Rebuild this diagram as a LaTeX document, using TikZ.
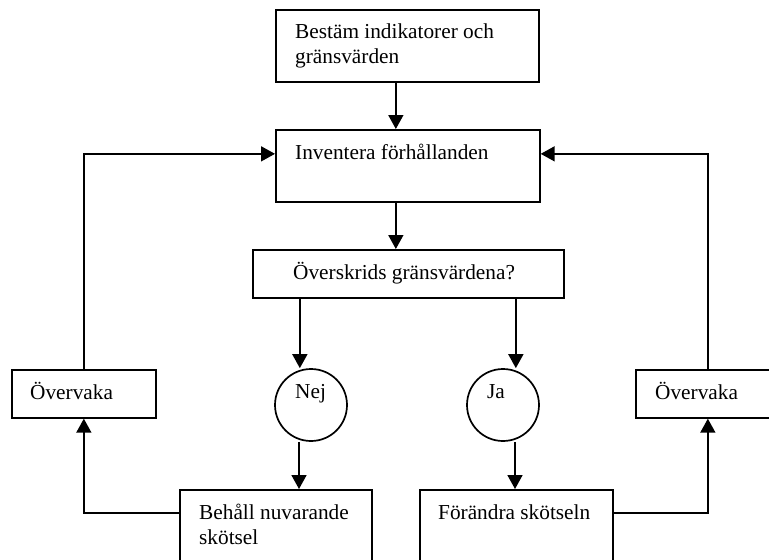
\documentclass[tikz,border=0pt]{standalone}
\usepackage{fontspec}
\setmainfont{Liberation Serif}
\usetikzlibrary{arrows.meta}
\begin{document}
\begin{tikzpicture}[x=1pt,y=-1pt,
    box/.style={draw,line width=1.7pt,anchor=north west,inner sep=0pt},
    circ/.style={draw,circle,line width=1.7pt,minimum size=72pt,inner sep=0pt},
    lbl/.style={anchor=base west,inner sep=0pt,align=left,font=\fontsize{21.3}{25}\selectfont},
    arr/.style={line width=1.7pt,-{Triangle[length=14pt,width=15pt]}}]
      \clip (0,0) rectangle (769,560);
      % boxes
      \node[box,minimum width=263pt,minimum height=72pt] (best) at (275,9) {};
      \node[box,minimum width=264pt,minimum height=72pt] (inv) at (275,129) {};
      \node[box,minimum width=311pt,minimum height=48pt] (fraga) at (252,249) {};
      \node[box,minimum width=144pt,minimum height=48pt] (ovv1) at (11,369) {};
      \node[box,minimum width=144pt,minimum height=48pt] (ovv2) at (635,369) {};
      \node[box,minimum width=192pt,minimum height=72pt] (behall) at (179,489) {};
      \node[box,minimum width=193pt,minimum height=72pt] (forandra) at (419,489) {};
      \node[circ] (nej) at (311,405) {};
      \node[circ] (ja) at (503,405) {};
      % texts (two-line texts sit on their last baseline)
      \node[lbl] (tbest) at (295,63) {Bestäm indikatorer och\\gränsvärden};
      \node[lbl] (tinv) at (295,159) {Inventera förhållanden};
      \node[lbl] (tfraga) at (293,279) {Överskrids gränsvärdena?};
      \node[lbl] (tovv1) at (30,399) {Övervaka};
      \node[lbl] (tovv2) at (655,399) {Övervaka};
      \node[lbl] (tnej) at (295,398) {Nej};
      \node[lbl] (tja) at (487,398) {Ja};
      \node[lbl] (tbehall) at (199,544) {Behåll nuvarande\\skötsel};
      \node[lbl] (tforandra) at (438,519) {Förändra skötseln};
      \begin{scope}[arr]
        \draw ([xshift=-11.5pt]best.south) to ([xshift=-11.5pt]best.south |- inv.north);
        \draw ([xshift=-12pt]inv.south) to ([xshift=-12pt]inv.south |- fraga.north);
        \draw ([xshift=-108.5pt]fraga.south) to ([xshift=-108.5pt]fraga.south |- nej.north);
        \draw ([xshift=107.5pt]fraga.south) to ([xshift=107.5pt]fraga.south |- ja.north);
        \draw ([xshift=-12pt]nej.south) to ([xshift=-12pt]nej.south |- behall.north);
        \draw ([xshift=12pt]ja.south) to ([xshift=12pt]ja.south |- forandra.north);
        \draw ([yshift=-24pt]behall.north west) -| (ovv1.south);
        \draw ([yshift=-24pt]forandra.north east) -| (ovv2.south);
        \draw (ovv1.north) |- ([yshift=12pt]inv.west);
        \draw (ovv2.north) |- ([yshift=12pt]inv.east);
      \end{scope}
    \end{tikzpicture}
\end{document}
